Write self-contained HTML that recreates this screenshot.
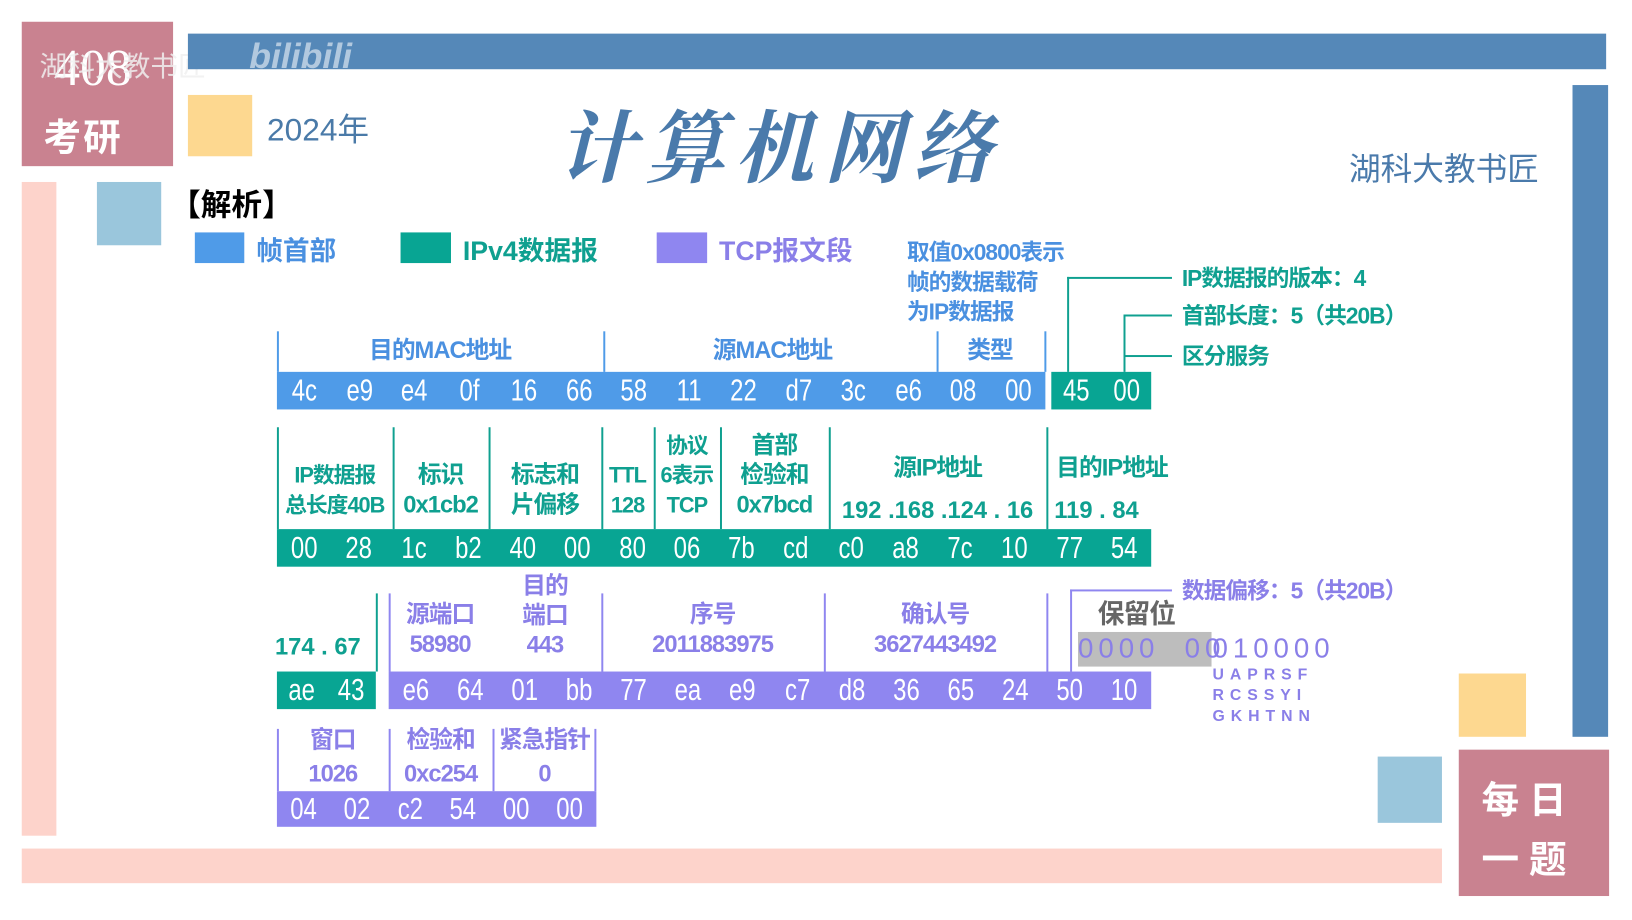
<!DOCTYPE html>
<html><head><meta charset="utf-8"><style>
*{margin:0;padding:0;box-sizing:border-box}
body{width:1632px;height:918px;background:#fff;position:relative;overflow:hidden;font-family:"Liberation Sans","Noto Sans CJK SC",sans-serif}
#w{position:absolute;left:0;top:0;width:1650px;height:930px;transform:scale(.989);transform-origin:0 0}
.a{position:absolute}
.bar{position:absolute;display:flex;color:#fff;font-size:31px;height:38px;line-height:38px}
.bar span{flex:1;text-align:center;display:inline-block;transform:scaleX(.78)}
.b{background:#4f9be8}.g{background:#08a593}.p{background:#8f86f0}
.l{position:absolute;font-weight:bold;text-align:center;font-size:24px;line-height:30px;letter-spacing:-1px}
.tb{color:#4a90e0}.tg{color:#0fa090}.tp{color:#8a7fe8}
.vb{position:absolute;width:2px;background:#4f9be8}
.vg{position:absolute;width:2px;background:#0fa090}
.vp{position:absolute;width:2px;background:#8f86f0}
</style></head><body><div id="w">
<div class="a" style="left:22px;top:22px;width:153px;height:146px;background:#c98290"></div>
<div class="a" style="left:55px;top:40px;font-family:'Liberation Serif',serif;font-size:52px;color:#fff">408</div>
<div class="a" style="left:44px;top:108px;font-size:38px;font-weight:bold;color:#fff;letter-spacing:2px">考研</div>
<div class="a" style="left:40px;top:46px;font-size:28px;color:rgba(240,240,240,.85)">湖科大教书匠</div>
<div class="a" style="left:190px;top:34px;width:1434px;height:36px;background:#5588b8"></div>
<div class="a" style="left:252px;top:36px;font-size:36px;font-weight:bold;color:rgba(255,255,255,.55);font-style:italic">bilibili</div>
<div class="a" style="left:1590px;top:86px;width:36px;height:659px;background:#5588b8"></div>
<div class="a" style="left:190px;top:96px;width:65px;height:62px;background:#fdd890"></div>
<div class="a" style="left:270px;top:106px;font-size:32px;color:#4a7aa8">2024年</div>
<div class="a" style="left:563px;top:86px;font-family:'Noto Serif CJK SC',serif;font-size:80px;font-weight:bold;color:#4a7aab;letter-spacing:10px;font-style:italic">计算机网络</div>
<div class="a" style="left:1364px;top:146px;font-size:32px;color:#4a7aab">湖科大教书匠</div>
<div class="a" style="left:22px;top:184px;width:35px;height:661px;background:#fdd3cb"></div>
<div class="a" style="left:98px;top:184px;width:65px;height:64px;background:#9ac6dc"></div>
<div class="a" style="left:172px;top:182px;font-size:31px;font-weight:bold;color:#000">【解析】</div>
<div class="a b" style="left:197px;top:235px;width:50px;height:31px"></div>
<div class="a tb" style="left:259px;top:232px;font-size:27px;font-weight:bold">帧首部</div>
<div class="a g" style="left:405px;top:235px;width:51px;height:31px"></div>
<div class="a tg" style="left:468px;top:232px;font-size:27px;font-weight:bold">IPv4数据报</div>
<div class="a p" style="left:664px;top:235px;width:51px;height:31px"></div>
<div class="a tp" style="left:727px;top:232px;font-size:27px;font-weight:bold">TCP报文段</div>
<div class="a" style="left:22px;top:858px;width:1436px;height:35px;background:#fdd3cb"></div>
<div class="a" style="left:1475px;top:681px;width:68px;height:64px;background:#fdd890"></div>
<div class="a" style="left:1393px;top:765px;width:65px;height:67px;background:#9ac6dc"></div>
<div class="a" style="left:1475px;top:758px;width:152px;height:148px;background:#c98290"></div>
<div class="a" style="left:1498px;top:780px;font-size:38px;font-weight:bold;color:#fff;letter-spacing:10px;line-height:60px">每日<br>一题</div>

<!-- row1 -->
<div class="vb" style="left:280px;top:335px;height:41px"></div>
<div class="vb" style="left:610px;top:335px;height:41px"></div>
<div class="vb" style="left:947px;top:335px;height:41px"></div>
<div class="vb" style="left:1056px;top:335px;height:41px"></div>
<div class="l tb" style="left:345px;top:340px;width:200px">目的MAC地址</div>
<div class="l tb" style="left:681px;top:340px;width:200px">源MAC地址</div>
<div class="l tb" style="left:951px;top:340px;width:100px">类型</div>
<div class="l tb" style="left:917px;top:240px;width:180px;text-align:left;font-size:23px">取值0x0800表示<br>帧的数据载荷<br>为IP数据报</div>
<div class="bar b" style="left:280px;top:376px;width:777px"><span>4c</span><span>e9</span><span>e4</span><span>0f</span><span>16</span><span>66</span><span>58</span><span>11</span><span>22</span><span>d7</span><span>3c</span><span>e6</span><span>08</span><span>00</span></div>
<div class="bar g" style="left:1063px;top:376px;width:101px"><span>45</span><span>00</span></div>
<div class="vg" style="left:1079px;top:280px;height:96px"></div>
<div class="a" style="left:1079px;top:280px;width:106px;height:2px;background:#0fa090"></div>
<div class="vg" style="left:1136px;top:318px;height:58px"></div>
<div class="a" style="left:1136px;top:318px;width:49px;height:2px;background:#0fa090"></div>
<div class="a" style="left:1136px;top:359px;width:49px;height:2px;background:#0fa090"></div>
<div class="l tg" style="left:1195px;top:266px;text-align:left;font-size:23px;width:300px">IP数据报的版本：4</div>
<div class="l tg" style="left:1195px;top:304px;text-align:left;font-size:23px;width:300px">首部长度：5（共20B）</div>
<div class="l tg" style="left:1195px;top:345px;text-align:left;font-size:23px;width:300px">区分服务</div>

<!-- row2 -->
<div class="vg" style="left:280px;top:432px;height:103px"></div>
<div class="vg" style="left:397px;top:432px;height:103px"></div>
<div class="vg" style="left:494px;top:432px;height:103px"></div>
<div class="vg" style="left:608px;top:432px;height:103px"></div>
<div class="vg" style="left:661px;top:432px;height:103px"></div>
<div class="vg" style="left:728px;top:432px;height:103px"></div>
<div class="vg" style="left:838px;top:432px;height:103px"></div>
<div class="vg" style="left:1058px;top:432px;height:103px"></div>
<div class="l tg" style="left:280px;top:466px;width:117px;font-size:22px">IP数据报<br>总长度40B</div>
<div class="l tg" style="left:397px;top:466px;width:97px">标识<br>0x1cb2</div>
<div class="l tg" style="left:494px;top:466px;width:114px">标志和<br>片偏移</div>
<div class="l tg" style="left:608px;top:466px;width:53px;font-size:22px">TTL<br>128</div>
<div class="l tg" style="left:661px;top:436px;width:67px;font-size:22px">协议<br>6表示<br>TCP</div>
<div class="l tg" style="left:728px;top:436px;width:110px">首部<br>检验和<br>0x7bcd</div>
<div class="l tg" style="left:838px;top:459px;width:220px">源IP地址</div>
<div class="l tg" style="left:838px;top:502px;width:220px;letter-spacing:0">192 .168 .124 . 16</div>
<div class="l tg" style="left:1068px;top:459px;text-align:left;width:140px">目的IP地址</div>
<div class="l tg" style="left:1066px;top:502px;text-align:left;width:140px;letter-spacing:0">119 . 84</div>
<div class="bar g" style="left:280px;top:535px;width:884px"><span>00</span><span>28</span><span>1c</span><span>b2</span><span>40</span><span>00</span><span>80</span><span>06</span><span>7b</span><span>cd</span><span>c0</span><span>a8</span><span>7c</span><span>10</span><span>77</span><span>54</span></div>

<!-- row3 -->
<div class="vg" style="left:380px;top:600px;height:79px"></div>
<div class="vp" style="left:393px;top:600px;height:79px"></div>
<div class="vp" style="left:608px;top:600px;height:79px"></div>
<div class="vp" style="left:833px;top:600px;height:79px"></div>
<div class="vp" style="left:1058px;top:600px;height:79px"></div>
<div class="vp" style="left:1082px;top:596px;height:83px"></div>
<div class="a" style="left:1082px;top:596px;width:103px;height:2px;background:#8f86f0"></div>
<div class="l tp" style="left:1195px;top:582px;text-align:left;width:300px;font-size:23px">数据偏移：5（共20B）</div>
<div class="l tg" style="left:278px;top:640px;text-align:left;width:100px;letter-spacing:0">174 . 67</div>
<div class="l tp" style="left:395px;top:607px;width:100px">源端口<br>58980</div>
<div class="l tp" style="left:501px;top:578px;width:100px">目的<br>端口<br>443</div>
<div class="l tp" style="left:608px;top:607px;width:225px">序号<br>2011883975</div>
<div class="l tp" style="left:833px;top:607px;width:225px">确认号<br>3627443492</div>
<div class="l" style="left:1110px;top:606px;color:#666;font-size:27px">保留位</div>
<div class="a" style="left:1090px;top:639px;width:135px;height:35px;background:#bdbdbd"></div>
<div class="a tp" style="left:1090px;top:640px;font-size:28px;letter-spacing:5px;white-space:pre">0000  00</div>
<div class="a tp" style="left:1226px;top:640px;font-size:28px;letter-spacing:5px">010000</div>
<div class="a tp" style="left:1226px;top:672px;font-size:16px;font-weight:bold;letter-spacing:6px;line-height:21px">UAPRSF<br>RCSSYI<br>GKHTNN</div>
<div class="bar g" style="left:280px;top:679px;width:100px"><span>ae</span><span>43</span></div>
<div class="bar p" style="left:393px;top:679px;width:771px"><span>e6</span><span>64</span><span>01</span><span>bb</span><span>77</span><span>ea</span><span>e9</span><span>c7</span><span>d8</span><span>36</span><span>65</span><span>24</span><span>50</span><span>10</span></div>

<!-- row4 -->
<div class="vp" style="left:280px;top:737px;height:63px"></div>
<div class="vp" style="left:393px;top:737px;height:63px"></div>
<div class="vp" style="left:498px;top:737px;height:63px"></div>
<div class="vp" style="left:601px;top:737px;height:63px"></div>
<div class="l tp" style="left:280px;top:732px;width:113px;line-height:34px">窗口<br>1026</div>
<div class="l tp" style="left:393px;top:732px;width:105px;line-height:34px">检验和<br>0xc254</div>
<div class="l tp" style="left:498px;top:732px;width:105px;line-height:34px">紧急指针<br>0</div>
<div class="bar p" style="left:280px;top:800px;width:323px;height:36px;line-height:36px"><span>04</span><span>02</span><span>c2</span><span>54</span><span>00</span><span>00</span></div>
</div></body></html>
